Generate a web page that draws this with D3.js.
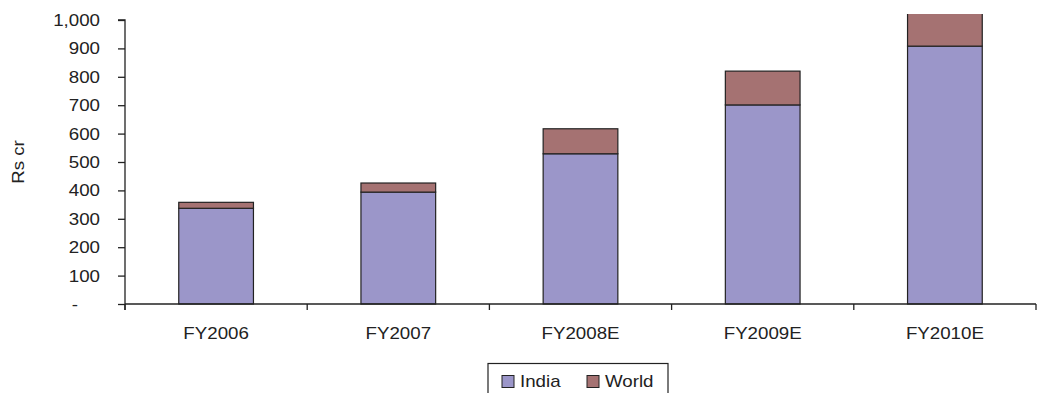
<!DOCTYPE html>
<html>
<head>
<meta charset="utf-8">
<script src="https://cdn.jsdelivr.net/npm/d3@7"></script>
<style>
  html, body { margin: 0; padding: 0; background: #fff; }
  svg { display: block; font-family: "Liberation Sans", Arial, sans-serif; }
</style>
</head>
<body>
<svg id="chart" width="1037" height="393"></svg>
<script>
// ---- data ----
const categories = ["FY2006", "FY2007", "FY2008E", "FY2009E", "FY2010E"];
const seriesNames = ["India", "World"];
const indiaValues = [337, 394, 529, 701, 908];
const worldValues = [21, 32, 88, 119, 130];
const yTickValues = [0, 100, 200, 300, 400, 500, 600, 700, 800, 900, 1000];
const yTickLabels = ["-", "100", "200", "300", "400", "500", "600", "700", "800", "900", "1,000"];
const yTitle = "Rs cr";
const colors = ["#9b96c9", "#a57272"];

// ---- layout ----
const plotLeft = 125, plotRight = 1036, plotTop = 20, plotBottom = 304, clipTop = 14;
const sx = 1.17; // horizontal stretch of text
const fs = 16;

const svg = d3.select("#chart");

const x = d3.scaleBand().domain(categories).range([plotLeft, plotRight]).paddingInner(0.59).paddingOuter(0.295);
const xb = d3.scaleBand().domain(categories).range([plotLeft, plotRight]); // for tick boundaries
const y = d3.scaleLinear().domain([0, 1000]).range([plotBottom, plotTop]);

const rows = categories.map((c, i) => ({ cat: c, India: indiaValues[i], World: worldValues[i] }));
const stacked = d3.stack().keys(seriesNames)(rows);

svg.append("clipPath").attr("id", "plotclip")
  .append("rect").attr("x", plotLeft).attr("y", clipTop).attr("width", plotRight - plotLeft).attr("height", plotBottom - clipTop + 1);

const g = svg.append("g").attr("clip-path", "url(#plotclip)");
stacked.forEach((s, si) => {
  g.selectAll(null).data(s).enter().append("rect")
    .attr("x", d => x(d.data.cat))
    .attr("width", x.bandwidth())
    .attr("y", d => y(d[1]))
    .attr("height", d => y(d[0]) - y(d[1]))
    .attr("fill", colors[si])
    .attr("stroke", "#222")
    .attr("stroke-width", 1.2);
});

// ---- y axis ----
const yAxis = svg.append("g").attr("transform", `translate(${plotLeft},0)`)
  .call(d3.axisLeft(y).tickValues(yTickValues).tickSize(7).tickFormat((d, i) => yTickLabels[i]));
yAxis.select(".domain").attr("d", `M-7,${plotTop}H0V${plotBottom + 6}`).attr("stroke", "#222").attr("stroke-width", 1.3);
yAxis.selectAll(".tick line").attr("stroke", "#222").attr("stroke-width", 1.3);
yAxis.selectAll(".tick text")
  .attr("x", null).attr("dy", null)
  .attr("font-size", fs).attr("fill", "#222")
  .attr("font-family", "Liberation Sans, Arial, sans-serif")
  .attr("transform", d => `translate(${d === 0 ? -47 : -25},5.5) scale(${sx},1)`);

// ---- x axis ----
const xAxis = svg.append("g").attr("transform", `translate(0,${plotBottom})`);
xAxis.append("line").attr("x1", plotLeft).attr("x2", plotRight).attr("y1", 0).attr("y2", 0)
  .attr("stroke", "#222").attr("stroke-width", 1.3);
const boundaries = categories.map(c => xb(c)).concat([plotRight]);
xAxis.selectAll(null).data(boundaries).enter().append("line")
  .attr("x1", d => d).attr("x2", d => d).attr("y1", 0).attr("y2", 6)
  .attr("stroke", "#222").attr("stroke-width", 1.3);
xAxis.selectAll(null).data(categories).enter().append("text")
  .attr("text-anchor", "middle")
  .attr("font-size", fs).attr("fill", "#222")
  .attr("transform", d => `translate(${xb(d) + xb.bandwidth() / 2},35) scale(${sx},1)`)
  .text(d => d);

// ---- y title ----
svg.append("text")
  .attr("text-anchor", "middle")
  .attr("font-size", fs).attr("fill", "#222")
  .attr("transform", `translate(24,162) rotate(-90) scale(${sx},1)`)
  .text(yTitle);

// ---- legend ----
const lg = svg.append("g");
lg.append("rect").attr("x", 488).attr("y", 363.5).attr("width", 180).attr("height", 40)
  .attr("fill", "#fff").attr("stroke", "#222").attr("stroke-width", 1.2);
const legendX = [502, 587];
seriesNames.forEach((n, i) => {
  lg.append("rect").attr("x", legendX[i]).attr("y", 375.5).attr("width", 12).attr("height", 12)
    .attr("fill", colors[i]).attr("stroke", "#222").attr("stroke-width", 1);
  lg.append("text").attr("font-size", fs).attr("fill", "#222")
    .attr("transform", `translate(${legendX[i] + 18},387) scale(${sx},1)`)
    .text(n);
});
</script>
</body>
</html>
